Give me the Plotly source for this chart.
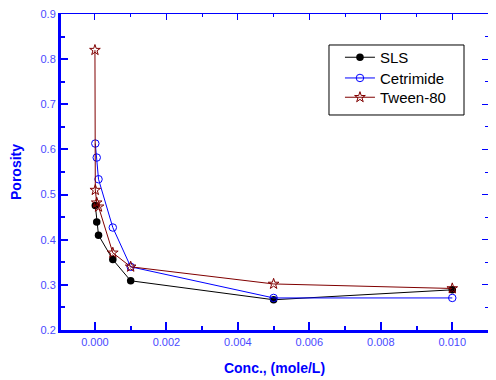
import plotly.graph_objects as go

# Data
sls_x = [0.00001, 0.00005, 0.0001, 0.0005, 0.001, 0.005, 0.01]
sls_y = [0.476, 0.439, 0.410, 0.356, 0.309, 0.267, 0.289]

cet_x = [0.00001, 0.00005, 0.0001, 0.0005, 0.001, 0.005, 0.01]
cet_y = [0.613, 0.582, 0.534, 0.427, 0.340, 0.271, 0.271]

tw_x = [0.0, 0.00001, 0.00005, 0.0001, 0.0005, 0.001, 0.005, 0.01]
tw_y = [0.820, 0.510, 0.482, 0.473, 0.371, 0.340, 0.302, 0.292]

x_ticks = [0.000, 0.002, 0.004, 0.006, 0.008, 0.010]
x_ticklabels = ["0.000", "0.002", "0.004", "0.006", "0.008", "0.010"]
y_ticks = [0.2, 0.3, 0.4, 0.5, 0.6, 0.7, 0.8, 0.9]
y_ticklabels = ["0.2", "0.3", "0.4", "0.5", "0.6", "0.7", "0.8", "0.9"]

XR = [-0.00095, 0.01100]
YR = [0.2, 0.9]
BLUE = "#0000ff"
TICKFONT = dict(family="Liberation Sans, Arial, sans-serif", size=11, color="#4a4aff")

fig = go.Figure()
fig.add_trace(go.Scatter(x=sls_x, y=sls_y, mode="lines+markers", name="SLS", legend="legend",
                         line=dict(color="black", width=1),
                         marker=dict(symbol="circle", size=7.5, color="black")))
fig.add_trace(go.Scatter(x=cet_x, y=cet_y, mode="lines+markers", name="Cetrimide", legend="legend2",
                         line=dict(color=BLUE, width=1),
                         marker=dict(symbol="circle-open", size=7.5, color=BLUE, line=dict(width=1))))
fig.add_trace(go.Scatter(x=tw_x, y=tw_y, mode="lines+markers", name="Tween-80", legend="legend3",
                         line=dict(color="#800000", width=1),
                         marker=dict(symbol="star-open", size=8, color="#800000", line=dict(width=1))))
# invisible trace to activate mirror axes
fig.add_trace(go.Scatter(x=[XR[0]], y=[YR[0]], xaxis="x2", yaxis="y2", mode="markers",
                         marker=dict(opacity=0), showlegend=False, hoverinfo="skip"))

LEG = dict(xanchor="left", yanchor="top", bgcolor="rgba(0,0,0,0)", borderwidth=0,
           font=dict(size=15, color="black"), tracegroupgap=0)
LX = 0.6533

fig.update_layout(
    width=496, height=380,
    margin=dict(l=53, r=16, t=6, b=58),
    plot_bgcolor="white", paper_bgcolor="white",
    font=dict(family="Liberation Sans, Arial, sans-serif"),
    xaxis=dict(range=XR, tickvals=x_ticks, ticktext=x_ticklabels, showgrid=False, zeroline=False,
               automargin=False, ticklabeloverflow="allow",
               showline=True, linecolor=BLUE, linewidth=3, ticks="inside", ticklen=8, tickwidth=2,
               tickcolor=BLUE, tickfont=TICKFONT,
               minor=dict(tickvals=[0.001, 0.003, 0.005, 0.007, 0.009], ticks="inside", ticklen=4,
                          tickwidth=2, tickcolor=BLUE, showgrid=False),
               title=dict(text="<b>Conc., (mole/L)</b>", font=dict(size=14, color=BLUE), standoff=16)),
    yaxis=dict(range=YR, tickvals=y_ticks, ticktext=y_ticklabels, showgrid=False, zeroline=False,
               automargin=False, ticklabeloverflow="allow",
               showline=True, linecolor=BLUE, linewidth=3, ticks="inside", ticklen=7, tickwidth=2,
               tickcolor=BLUE, tickfont=TICKFONT,
               minor=dict(tickvals=[0.25, 0.35, 0.45, 0.55, 0.65, 0.75, 0.85], ticks="inside", ticklen=4,
                          tickwidth=2, tickcolor=BLUE, showgrid=False),
               title=dict(text="<b>Porosity</b>", font=dict(size=14, color=BLUE), standoff=16)),
    xaxis2=dict(overlaying="x", side="top", range=XR, tickvals=x_ticks, showticklabels=False,
                automargin=False,
                showgrid=False, zeroline=False, showline=True, linecolor=BLUE, linewidth=1,
                ticks="inside", ticklen=6, tickwidth=1, tickcolor=BLUE,
                minor=dict(tickvals=[0.001, 0.003, 0.005, 0.007, 0.009], ticks="inside", ticklen=3,
                           tickwidth=1, tickcolor=BLUE)),
    yaxis2=dict(overlaying="y", side="right", range=YR, tickvals=y_ticks, showticklabels=False,
                automargin=False,
                showgrid=False, zeroline=False, showline=True, linecolor=BLUE, linewidth=1,
                ticks="inside", ticklen=6, tickwidth=1, tickcolor=BLUE,
                minor=dict(tickvals=[0.25, 0.35, 0.45, 0.55, 0.65, 0.75, 0.85], ticks="inside", ticklen=3,
                           tickwidth=1, tickcolor=BLUE)),
    legend=dict(x=LX, y=0.9146, **LEG),
    legend2=dict(x=LX, y=0.849, **LEG),
    legend3=dict(x=LX, y=0.788, **LEG),
    showlegend=True,
    shapes=[dict(type="rect", xref="paper", yref="paper", x0=0.6276, x1=0.9438, y0=0.6804, y1=0.9019,
                 line=dict(color="black", width=1), fillcolor="rgba(0,0,0,0)", layer="above")],
)

fig.write_html("out.html")
